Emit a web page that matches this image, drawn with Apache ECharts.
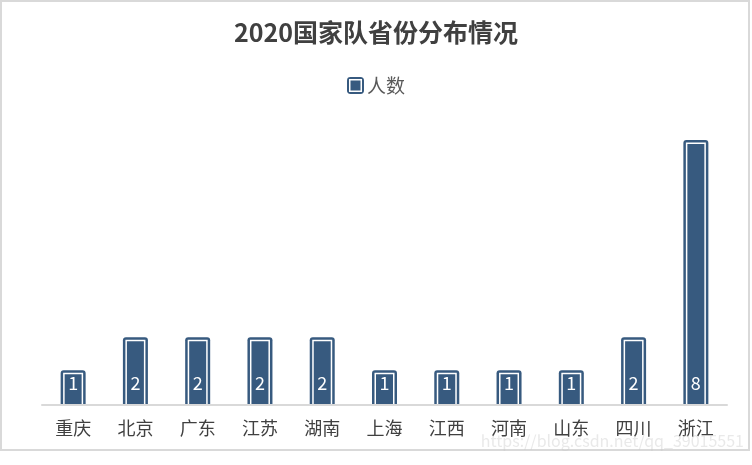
<!DOCTYPE html>
<html><head><meta charset="utf-8">
<script src="https://cdn.jsdelivr.net/npm/echarts@6/dist/echarts.min.js"></script>
<style>html,body{margin:0;padding:0;background:#fff}#c{width:752px;height:465px}</style>
</head><body><div id="c"></div>
<script>
const titleText = '2020国家队省份分布情况';
const seriesName = '人数';
const provinces = ['重庆','北京','广东','江苏','湖南','上海','江西','河南','山东','四川','浙江'];
const counts = [1,2,2,2,2,1,1,1,1,2,8];
const watermark = 'https://blog.csdn.net/qq_39015551';

const DARK = '#375a7f';
const FONT = '"Noto Sans CJK SC", "Noto Sans", sans-serif';
const iconSvg = '<svg xmlns="http://www.w3.org/2000/svg" width="17" height="17"><rect x="0" y="0" width="17" height="17" rx="3.5" ry="3.5" fill="' + DARK + '"/><rect x="2.75" y="2.75" width="11.5" height="11.5" fill="' + DARK + '" stroke="#fff" stroke-width="1.5"/></svg>';
const iconUrl = 'image://data:image/svg+xml;charset=utf-8,' + encodeURIComponent(iconSvg);

const chart = echarts.init(document.getElementById('c'), null, {renderer: 'canvas'});
chart.setOption({
  backgroundColor: '#fff',
  animation: false,
  title: {
    text: titleText, left: 'center', top: 15,
    textStyle: {fontFamily: FONT, fontSize: 25, fontWeight: 'bold', color: '#404040'}
  },
  legend: {
    data: [seriesName], top: 71, left: 'center',
    itemWidth: 17, itemHeight: 17, itemGap: 4,
    icon: iconUrl,
    textStyle: {fontFamily: FONT, fontSize: 19, color: '#595959', padding: [0,0,0,-2]}
  },
  grid: {left: 42, right: 25, top: 142, bottom: 60},
  xAxis: {
    type: 'category', data: provinces,
    axisLine: {lineStyle: {color: '#d9d9d9', width: 2}},
    axisTick: {show: false},
    axisLabel: {fontFamily: FONT, fontSize: 18, color: '#404040', margin: 14},
    z: 5
  },
  yAxis: {
    type: 'value', min: 0, max: 8, interval: 1, show: false,
    splitLine: {show: false}
  },
  series: [{
    name: seriesName,
    type: 'custom',
    itemStyle: {color: DARK},
    data: counts.map((v, i) => [i, v]),
    renderItem: function (params, api) {
      const idx = api.value(0), v = api.value(1);
      const top = api.coord([idx, v]);
      const base = api.coord([idx, 0]);
      const w = 25, cx = top[0];
      const T = top[1] - 2;
      const l = cx - w / 2;
      const inset = 3.25;
      return {
        type: 'group',
        children: [
          {type: 'rect', shape: {x: l, y: T, width: w, height: base[1] - T, r: [3,3,0,0]}, style: {fill: DARK}},
          {type: 'polyline', shape: {points: [[l + inset, base[1]], [l + inset, T + inset], [l + w - inset, T + inset], [l + w - inset, base[1]]]},
           style: {fill: null, stroke: '#fff', lineWidth: 1.5}},
          {type: 'text', x: cx, y: base[1] - 22,
           style: {text: String(v), fill: '#fff', font: '18px ' + FONT, textAlign: 'center', textVerticalAlign: 'middle'}}
        ]
      };
    }
  }],
  graphic: [
    {type: 'rect', z: 100, silent: true, shape: {x: 1, y: 1, width: 748, height: 449},
     style: {fill: null, stroke: '#d9d9d9', lineWidth: 2}},
    {type: 'text', z: 100, silent: true, right: 8, top: 433,
     style: {text: watermark, fill: 'rgba(200,200,200,0.4)', font: '16px ' + FONT}}
  ]
});
</script>
</body></html>
